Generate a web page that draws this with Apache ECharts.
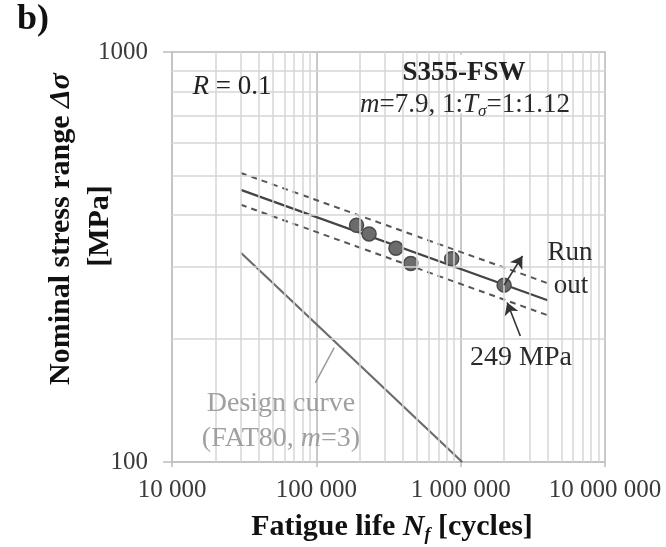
<!DOCTYPE html>
<html>
<head>
<meta charset="utf-8">
<script src="https://cdn.jsdelivr.net/npm/echarts@6/dist/echarts.min.js"></script>
<style>
  html, body { margin: 0; padding: 0; background: #fff; }
  #chart { width: 666px; height: 547px; }
</style>
</head>
<body>
<div id="chart"></div>
<script>
// Fatigue test results, S355 friction stir welded joints, R = 0.1
const testLife   = [190000, 232000, 356000, 451000, 867000, 2000000];
const testStress = [378, 360, 332, 305, 313, 270];

// Regression line (m = 7.9) and scatter band limits, drawn between two lives
const bandLife    = [30000, 4000000];
const meanStress  = [461, 248];
const upperStress = [507, 273];
const lowerStress = [424, 228];

// Design curve FAT80, m = 3
const designLife   = [30000, 1024000];
const designStress = [324, 100];

// Axis ranges and grid values
const lifeRange   = [10000, 10000000];
const stressRange = [100, 1000];
const minorLife   = [20000, 30000, 40000, 50000, 60000, 70000, 80000, 90000,
                     200000, 300000, 400000, 500000, 600000, 700000, 800000, 900000,
                     2000000, 3000000, 4000000, 5000000, 6000000, 7000000, 8000000, 9000000];
const minorStress = [200, 300, 400, 500, 600, 700, 800, 900];

// Run-out arrow and 249 MPa pointer
const runOutArrow   = [[2000000, 270], [2680000, 318]];
const pointer249    = [[2590000, 203], [2100000, 245]];
const designPointer = [[98400, 156], [133000, 190]];

const SERIF = "'Liberation Serif', 'Times New Roman', serif";
const zip = (a, b) => a.map((v, i) => [v, b[i]]);
// thousands separated by a space from five digits upwards
const spaced = v => {
  const s = String(Math.round(v));
  return s.length > 4 ? s.replace(/\B(?=(\d{3})+(?!\d))/g, ' ') : s;
};

const chart = echarts.init(document.getElementById('chart'), null, { renderer: 'canvas' });

function txt(x, y, text, size, opts) {
  opts = opts || {};
  return {
    type: 'text', x: x, y: y, z: 100,
    rotation: opts.rotation || 0,
    style: {
      text: text,
      fontFamily: SERIF,
      fontSize: size,
      fontWeight: opts.bold ? 'bold' : 'normal',
      fontStyle: opts.italic ? 'italic' : 'normal',
      fill: opts.color || '#1a1a1a',
      align: 'center',
      verticalAlign: 'middle'
    }
  };
}

// rich text styles: normal, italic and italic subscript (pushed down by top padding)
function richStyles(size, bold, color, subSize, drop) {
  const w = bold ? 'bold' : 'normal';
  return {
    n: { fontFamily: SERIF, fontSize: size, fontWeight: w, fill: color },
    i: { fontFamily: SERIF, fontSize: size, fontWeight: w, fontStyle: 'italic', fill: color },
    s: { fontFamily: SERIF, fontSize: subSize, fontWeight: w, fontStyle: 'italic', fill: color, padding: [drop, 0, 0, 0] }
  };
}

function richTxt(x, y, text, styles, color, rotation) {
  return {
    type: 'text', x: x, y: y, z: 100, rotation: rotation || 0,
    style: { text: text, align: 'center', verticalAlign: 'middle', fill: color, rich: styles }
  };
}

const option = {
  animation: false,
  backgroundColor: '#ffffff',
  grid: {
    left: 172, top: 52, width: 433, height: 410,
    show: true, borderColor: '#cdcdcd', borderWidth: 2, backgroundColor: 'transparent'
  },
  xAxis: {
    type: 'log', logBase: 10, min: lifeRange[0], max: lifeRange[1],
    axisLine: { show: true, lineStyle: { color: '#c4c4c4', width: 2 } },
    axisTick: { show: true, length: 5, lineStyle: { color: '#bdbdbd', width: 1.5 } },
    axisLabel: {
      margin: 16, fontFamily: SERIF, fontSize: 25, color: '#3a3a3a',
      formatter: spaced, showMinLabel: true, showMaxLabel: true
    },
    splitLine: { show: true, lineStyle: { color: '#c9c9c9', width: 2 } },
    minorTick: { show: false }, minorSplitLine: { show: false }
  },
  yAxis: {
    type: 'log', logBase: 10, min: stressRange[0], max: stressRange[1],
    axisLine: { show: true, lineStyle: { color: '#c4c4c4', width: 2 } },
    axisTick: { show: true, length: 9, lineStyle: { color: '#bdbdbd', width: 1.5 } },
    axisLabel: { margin: 24, fontFamily: SERIF, fontSize: 25, color: '#3a3a3a', formatter: spaced },
    splitLine: { show: true, lineStyle: { color: '#c9c9c9', width: 2 } }
  },
  series: [
    {
      // minor grid lines
      name: 'grid', type: 'line', data: [], z: 1, silent: true,
      markLine: {
        silent: true, symbol: ['none', 'none'], label: { show: false },
        lineStyle: { color: '#d6d6d6', width: 1.5, type: 'solid' },
        data: minorLife.map(v => ({ xAxis: v })).concat(minorStress.map(v => ({ yAxis: v })))
      }
    },
    {
      // white boxes behind the two text blocks
      name: 'boxes', type: 'line', data: [], z: 2, silent: true,
      markArea: {
        silent: true, itemStyle: { color: '#ffffff', borderWidth: 0 },
        data: [
          [{ coord: [10400, 708] }, { coord: [97000, 985] }],
          [{ coord: [131000, 708] }, { coord: [9700000, 985] }]
        ]
      }
    },
    {
      name: 'FAT80', type: 'line', z: 3, symbol: 'none',
      data: zip(designLife, designStress),
      lineStyle: { color: '#6c6c6c', width: 2.2 },
      markLine: {
        silent: true, symbol: ['none', 'none'], label: { show: false },
        lineStyle: { color: '#9a9a9a', width: 1.5, type: 'solid' },
        data: [[{ coord: designPointer[0] }, { coord: designPointer[1] }]]
      }
    },
    {
      name: 'mean', type: 'line', z: 3, symbol: 'none',
      data: zip(bandLife, meanStress),
      lineStyle: { color: '#444444', width: 2.2 }
    },
    {
      name: 'upper', type: 'line', z: 3, symbol: 'none',
      data: zip(bandLife, upperStress),
      lineStyle: { color: '#555555', width: 2, type: [6, 5] }
    },
    {
      name: 'lower', type: 'line', z: 3, symbol: 'none',
      data: zip(bandLife, lowerStress),
      lineStyle: { color: '#555555', width: 2, type: [6, 5] }
    },
    {
      name: 'tests', type: 'scatter', z: 4, symbol: 'circle', symbolSize: 14,
      data: zip(testLife, testStress),
      itemStyle: { color: '#6c6c6c', borderColor: '#4a4a4a', borderWidth: 1.5, opacity: 1 },
      markLine: {
        silent: true, label: { show: false }, symbolSize: [11, 12],
        lineStyle: { color: '#333333', width: 1.6, type: 'solid' },
        data: [
          [{ coord: runOutArrow[0], symbol: 'none' }, { coord: runOutArrow[1], symbol: 'arrow' }],
          [{ coord: pointer249[0], symbol: 'none' }, { coord: pointer249[1], symbol: 'arrow' }]
        ]
      }
    }
  ],
  graphic: [
    txt(33, 20, 'b)', 36, { bold: true, color: '#111' }),
    richTxt(232, 87, '{i|R}{n| = 0.1}', richStyles(27, false, '#222', 18, 14), '#222'),
    txt(464, 73, 'S355-FSW', 27, { bold: true, color: '#222' }),
    richTxt(465, 105, '{i|m}{n|=7.9, 1:}{i|T}{s|σ}{n|=1:1.12}', richStyles(27, false, '#2a2a2a', 17, 14), '#2a2a2a'),
    txt(570, 253, 'Run', 27, { color: '#2a2a2a' }),
    txt(571, 286, 'out', 27, { color: '#2a2a2a' }),
    txt(521, 358, '249 MPa', 28, { color: '#2a2a2a' }),
    txt(281, 404, 'Design curve', 28, { color: '#a0a0a0' }),
    richTxt(281, 439, '{n|(FAT80, }{i|m}{n|=3)}', richStyles(28, false, '#a0a0a0', 18, 14), '#a0a0a0'),
    richTxt(392, 527, '{n|Fatigue life }{i|N}{s|f}{n| [cycles]}', richStyles(30, true, '#111', 18, 16), '#111'),
    richTxt(61, 229, '{n|Nominal stress range }{i|Δσ}', richStyles(30, true, '#111', 18, 16), '#111', Math.PI / 2),
    txt(100, 226, '[MPa]', 30, { bold: true, color: '#111', rotation: Math.PI / 2 })
  ]
};

chart.setOption(option);
</script>
</body>
</html>
